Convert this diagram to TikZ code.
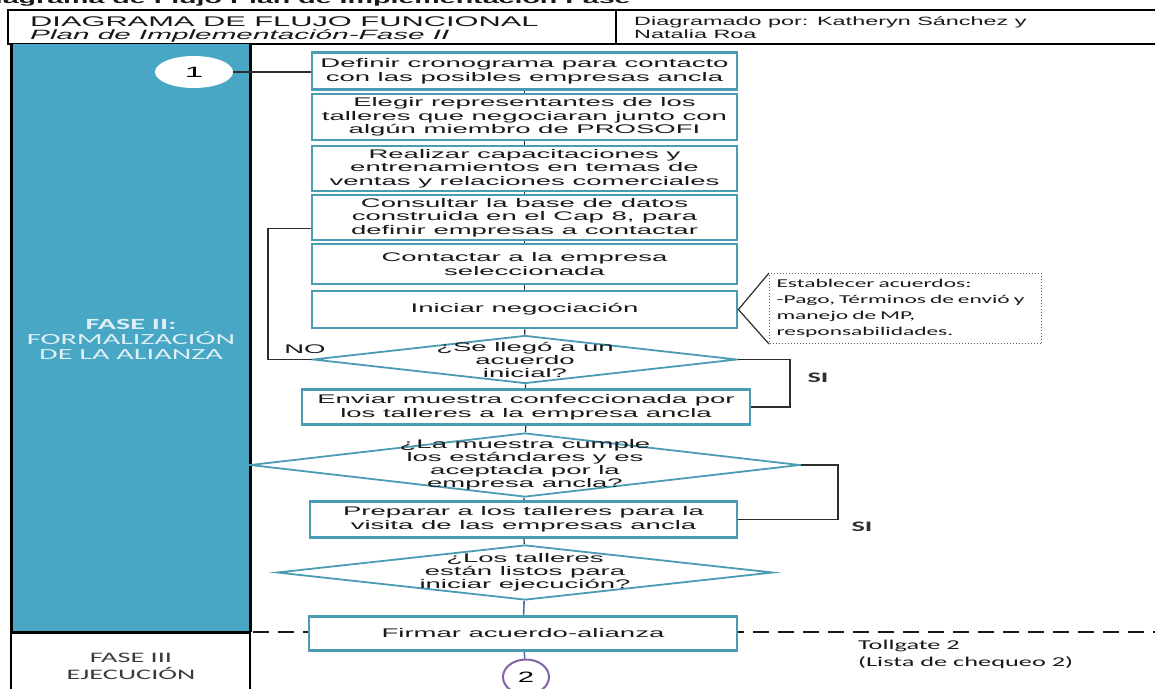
\documentclass[tikz,border=0pt]{standalone}
\usepackage{fontspec}
\setmainfont{Liberation Sans}
% widened faces used for the lettering of the chart
\newfontfamily\arw[FakeStretch=2.2]{Liberation Sans}
\newfontfamily\arh[FakeStretch=1.95]{Liberation Sans}
\newfontfamily\cbn[FakeStretch=1.95]{Carlito}
\usetikzlibrary{shapes.geometric}

\definecolor{colblue}{RGB}{72,167,196}
\definecolor{boxteal}{RGB}{74,156,181}
\definecolor{coltext}{RGB}{222,240,246}
\definecolor{linegray}{RGB}{45,45,45}
\definecolor{purp}{RGB}{128,100,165}
\definecolor{linkblue}{RGB}{79,112,170}
\definecolor{txtgray}{RGB}{25,25,25}
\definecolor{notegray}{RGB}{95,95,95}

\begin{document}
\begin{tikzpicture}[x=1pt,y=-1pt,
  stepbox/.style={draw=boxteal, line width=2.8pt, fill=white, minimum width=425pt,
    inner sep=0pt, align=center, font=\arw\fontsize{12.5}{13.6}\selectfont, text=txtgray},
  dia/.style={diamond, draw=boxteal, line width=1.8pt, fill=white, inner sep=0pt},
  diatext/.style={align=center, inner sep=0pt, font=\arw\fontsize{12.5}{13}\selectfont, text=txtgray},
  conn/.style={draw=linegray, line width=1.2pt},
  bluelink/.style={draw=linkblue, line width=1.6pt},
  lbl/.style={inner sep=0pt, font=\arw\fontsize{12.5}{12.5}\selectfont, text=txtgray},
  silbl/.style={inner sep=0pt, font=\cbn\bfseries\fontsize{14.5}{14.5}\selectfont, text=txtgray!90},
  hdr/.style={anchor=base west, inner sep=0pt, text=txtgray},
  note/.style={draw=notegray, dotted, line width=1pt, align=left, anchor=north west,
    inner xsep=7pt, inner ysep=3pt, text width=258pt, minimum height=70pt,
    font=\cbn\fontsize{12}{16}\selectfont, text=txtgray},
  bubble/.style={ellipse, inner sep=0pt, fill=white}
]
\useasboundingbox (0,0) rectangle (1155,688);
\fill[white] (0,0) rectangle (1155,688);

% page heading, cut by the top edge
\node[hdr, font=\arw\bfseries\fontsize{13}{13}\selectfont] (pagehead) at (-26,4)
  {Diagrama de Flujo Plan de Implementación Fase};

% title block
\draw[line width=1.3pt] (8,10) rectangle (1160,44);
\draw[line width=1.3pt] (616,10) -- (616,44);
\node[hdr, font=\arw\fontsize{14}{14}\selectfont] (title) at (30,26) {DIAGRAMA DE FLUJO FUNCIONAL};
\node[hdr, font=\arw\itshape\fontsize{13.5}{13.5}\selectfont] (subtitle) at (30,39.5) {Plan de Implementación-Fase II};
\node[hdr, font=\arh\fontsize{12}{12}\selectfont] (authorsA) at (634,25) {Diagramado por: Katheryn Sánchez y};
\node[hdr, font=\arh\fontsize{12}{12}\selectfont] (authorsB) at (634,38.5) {Natalia Roa};

% phase lane
\fill[colblue] (11,44) rectangle (250,632);
\draw[line width=3pt] (11,44) -- (11,632) -- (250,632);
\draw[line width=3pt] (250,44) -- (250,632);
\draw[line width=1.2pt] (11,632) -- (11,690);
\draw[line width=1.2pt] (250,632) -- (250,690);
\node[align=center, inner sep=0pt, text=coltext, font=\cbn\fontsize{15.5}{15}\selectfont] (phase2)
  at (131,339) {\textbf{FASE II:}\\FORMALIZACIÓN\\DE LA ALIANZA};
\node[align=center, inner sep=0pt, text=txtgray!85, font=\cbn\fontsize{14.5}{17}\selectfont] (phase3)
  at (131,666) {FASE III\\EJECUCIÓN};

% tollgate separator
\draw[line width=2.6pt, color=txtgray, dash pattern=on 16pt off 9pt] (253,632) -- (1160,632);
\node[anchor=north west, align=left, inner sep=0pt, text=txtgray, font=\cbn\fontsize{13.5}{17}\selectfont] (tollgate)
  at (858,640) {Tollgate 2\\(Lista de chequeo 2)};

% connector bubble 1
\node[bubble, minimum width=78pt, minimum height=32pt, font=\arw\fontsize{15}{15}\selectfont] (start) at (194,72) {1};

% process steps
\node[stepbox, minimum height=37pt] (b1) at (524.5,71) {Definir cronograma para contacto\\con las posibles empresas ancla};
\node[stepbox, minimum height=46pt] (b2) at (524.5,117) {Elegir representantes de los\\talleres que negociaran junto con\\algún miembro de PROSOFI};
\node[stepbox, minimum height=45pt] (b3) at (524.5,168.5) {Realizar capacitaciones y\\entrenamientos en temas de\\ventas y relaciones comerciales};
\node[stepbox, minimum height=45pt] (b4) at (524.5,217.5) {Consultar la base de datos\\construida en el Cap 8, para\\definir empresas a contactar};
\node[stepbox, minimum height=40pt] (b5) at (524.5,264) {Contactar a la empresa\\seleccionada};
\node[stepbox, minimum height=37pt] (b6) at (524.5,309.5) {Iniciar negociación};

\node[dia, minimum width=424pt, minimum height=48pt] (d1) at (525,359.5) {};
\node[diatext] (d1t) at (d1) {¿Se llegó a un\\acuerdo\\inicial?};

\node[stepbox, minimum width=448pt, minimum height=35pt] (b7) at (526,407) {Enviar muestra confeccionada por\\los talleres a la empresa ancla};

\node[dia, minimum width=550pt, minimum height=64pt] (d2) at (525,465) {};
\node[diatext] (d2t) at (d2) {¿La muestra cumple\\los estándares y es\\aceptada por la\\empresa ancla?};

\node[stepbox, minimum width=427pt, minimum height=36pt] (b8) at (523.5,519.5) {Preparar a los talleres para la\\visita de las empresas ancla};

\node[dia, minimum width=496pt, minimum height=55pt] (d3) at (525,572.5) {};
\node[diatext] (d3t) at (d3) {¿Los talleres\\están listos para\\iniciar ejecución?};

\node[stepbox, minimum width=428pt, minimum height=34pt] (b9) at (523,633.5) {Firmar acuerdo-alianza};

\node[bubble, draw=purp, line width=2pt, minimum width=46pt, minimum height=35pt,
  font=\arh\fontsize{15}{15}\selectfont] (finish) at (526,677) {2};

% agreement note
\node[note] (agree) at (769,273) {Establecer acuerdos:\\-Pago, Términos de envió y\\manejo de MP,\\responsabilidades.};
\draw[conn] (agree.north west) -- (b6.east) -- (agree.south west);

% main flow
\draw[conn] (start.east) -- (start.east -| b1.west);
\draw[conn] (b1) -- (b2);
\draw[conn] (b2) -- (b3);
\draw[conn] (b3) -- (b4);
\draw[conn] (b4) -- (b5);
\draw[conn] (b5) -- (b6);
\draw[conn] (b6) -- (d1);
\draw[conn] (d1) -- (b7);
\draw[conn] (b7) -- (d2);
\draw[conn] (d2) -- (b8);
\draw[conn] (b8) -- (d3);
\draw[bluelink] (d3) -- (b9);
\draw[bluelink] (b9) -- (finish);

% decision loops
\coordinate (b4in) at ([yshift=-11pt]b4.west);
\coordinate (noside) at (268,0);
\draw[conn] (d1.west) -| (noside |- b4in) -- (b4in);
\node[lbl] (nolbl) at (305,349) {NO};

\coordinate (siA) at (790,0);
\draw[conn] (d1.east) -| (siA |- b7.east) -- (b7.east);
\node[silbl] (silblA) at (818,378) {SI};

\coordinate (siB) at (838,0);
\draw[conn] (d2.east) -| (siB |- b8.east) -- (b8.east);
\node[silbl] (silblB) at (862,527) {SI};
\end{tikzpicture}
\end{document}
